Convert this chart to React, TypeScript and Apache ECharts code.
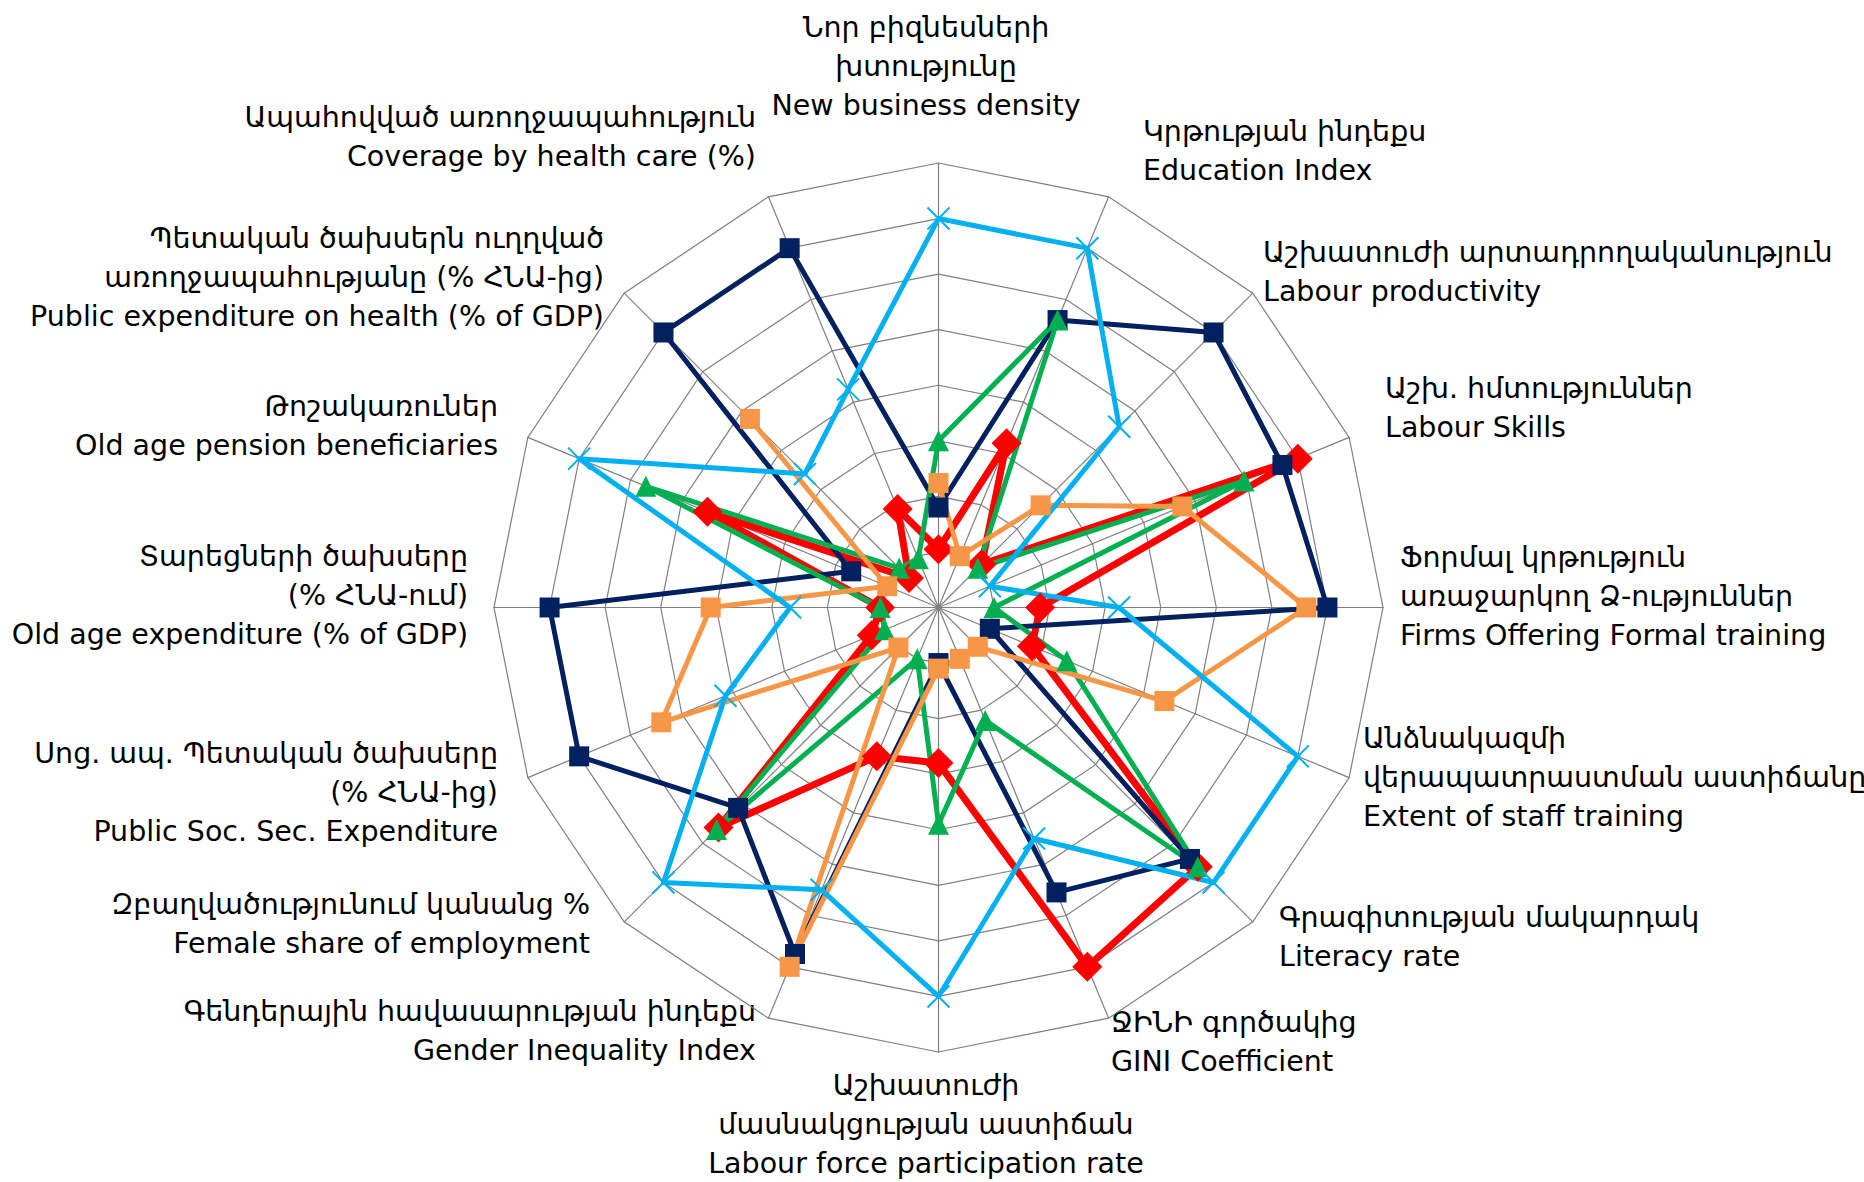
import React, { useEffect, useRef } from "react";
import * as echarts from "echarts";

// Axis categories, clockwise from the top
const categories: string[] = [
  "Նոր բիզնեսների\nխտությունը\nNew business density",
  "Կրթության ինդեքս\nEducation Index",
  "Աշխատուժի արտադրողականություն\nLabour productivity",
  "Աշխ. հմտություններ\nLabour Skills",
  "Ֆորմալ կրթություն\nառաջարկող Ձ-ություններ\nFirms Offering Formal training",
  "Անձնակազմի\nվերապատրաստման աստիճանը\nExtent of staff training",
  "Գրագիտության մակարդակ\nLiteracy rate",
  "ՋԻՆԻ գործակից\nGINI Coefficient",
  "Աշխատուժի\nմասնակցության աստիճան\nLabour force participation rate",
  "Գենդերային հավասարության ինդեքս\nGender Inequality Index",
  "Զբաղվածությունում կանանց %\nFemale share of employment",
  "Սոց. ապ. Պետական ծախսերը\n(% ՀՆԱ-ից)\nPublic Soc. Sec. Expenditure",
  "Տարեցների ծախսերը\n(% ՀՆԱ-ում)\nOld age expenditure (% of GDP)",
  "Թոշակառուներ\nOld age pension beneficiaries",
  "Պետական ծախսերն ուղղված\nառողջապահությանը (% ՀՆԱ-ից)\nPublic expenditure on health (% of GDP)",
  "Ապահովված առողջապահություն\nCoverage by health care (%)",
];

// Series values (same clockwise order as categories), scale 0..8
const redValues: (number | null)[] = [1.05, 3.2, 1.1, 7.0, 1.83, 1.82, 6.6, 7.0, 2.8, 2.9, 5.6, 1.3, 1.05, 4.5, 0.75, 1.92];
const navyValues: (number | null)[] = [1.8, 5.6, 7.0, 6.7, 7.0, 1.0, 6.4, 5.55, 1.0, 6.75, 5.1, 7.0, 7.0, 1.7, 7.0, 7.0];
const greenValues: (number | null)[] = [3.0, 5.6, 1.0, 5.95, 1.0, 2.5, 6.6, 2.2, 3.9, 1.0, 5.65, 1.05, 1.05, 5.7, 1.0, 0.95];
const orangeValues: (number | null)[] = [2.24, 1.0, 2.6, 4.75, 6.62, 4.4, 1.0, 1.0, 1.1, 7.0, 1.02, 5.4, 4.1, 1.0, 4.8, null];
const cyanValues: (number | null)[] = [7.0, 7.0, 4.6, 1.0, 3.25, 7.0, 7.0, 4.5, 7.0, 5.5, 7.0, 4.15, 2.67, 7.0, 3.4, 4.25];

const scaleMax = 8;

// Label placement (layout only)
const labelLayout: { x: number; y: number; align: string }[] = [
  { x: 926, y: 66, align: "center" },
  { x: 1143, y: 151, align: "left" },
  { x: 1263, y: 272, align: "left" },
  { x: 1385, y: 408, align: "left" },
  { x: 1400, y: 596, align: "left" },
  { x: 1363, y: 777, align: "left" },
  { x: 1279, y: 937, align: "left" },
  { x: 1111, y: 1042, align: "left" },
  { x: 926, y: 1124, align: "center" },
  { x: 756, y: 1031, align: "right" },
  { x: 590, y: 924, align: "right" },
  { x: 498, y: 792, align: "right" },
  { x: 468, y: 595, align: "right" },
  { x: 498, y: 426, align: "right" },
  { x: 604, y: 277, align: "right" },
  { x: 756, y: 137, align: "right" },
];

const CENTER = [938.5, 607.5];
const RADIUS = 444.5;

function toPolarData(vals: (number | null)[]) {
  const pts: any[] = vals.map((v, i) => [v == null ? "-" : v, i]);
  pts.push({ value: [vals[0] == null ? "-" : vals[0], vals.length], symbol: "none" });
  return pts;
}

export default function App() {
  const ref = useRef<HTMLDivElement>(null);
  useEffect(() => {
    if (!ref.current) return;
    const chart = echarts.init(ref.current, null, { renderer: "svg" });
    const mk = (name: string, vals: (number | null)[], color: string, width: number, symbol: string, size: number, extra: any = {}) => ({
      name,
      type: "line",
      coordinateSystem: "polar",
      data: toPolarData(vals),
      connectNulls: false,
      symbol,
      symbolSize: size,
      showSymbol: true,
      z: 3,
      lineStyle: { color, width, join: "round" },
      itemStyle: { color, borderWidth: 0, ...extra },
      emphasis: { disabled: true },
    });
    chart.setOption({
      animation: false,
      backgroundColor: "#ffffff",
      radar: {
        center: CENTER,
        radius: RADIUS,
        startAngle: 90,
        splitNumber: 8,
        shape: "polygon",
        z: 1,
        indicator: categories.map((c) => ({ name: c, max: scaleMax, min: 0 })),
        axisName: { show: false },
        axisLine: { lineStyle: { color: "#7f7f7f", width: 1.2 } },
        splitLine: { lineStyle: { color: "#7f7f7f", width: 1.2 } },
        splitArea: { show: false },
        axisTick: { show: false },
        axisLabel: { show: false },
      },
      polar: { center: CENTER, radius: RADIUS },
      angleAxis: { type: "value", min: 0, max: categories.length, startAngle: 90, clockwise: true, show: false },
      radiusAxis: { type: "value", min: 0, max: scaleMax, show: false },
      graphic: categories.map((c, i) => ({
        type: "text",
        x: labelLayout[i].x,
        y: labelLayout[i].y,
        silent: true,
        style: {
          text: c,
          fill: "#000000",
          fontSize: 28.5,
          fontFamily: "DejaVu Sans",
          lineHeight: 39,
          align: labelLayout[i].align,
          verticalAlign: "middle",
        },
      })),
      series: [
        mk("Series 1", redValues, "#FF0000", 7, "diamond", 30),
        mk("Series 2", navyValues, "#002060", 5, "rect", 20),
        mk("Series 3", greenValues, "#00B050", 5, "triangle", 21),
        mk("Series 4", orangeValues, "#F79646", 5, "rect", 20),
        mk("Series 5", cyanValues, "#00B0F0", 5, "path://M0,0L10,10M10,0L0,10", 22, { borderColor: "#00B0F0", borderWidth: 2 }),
      ],
    });
    return () => chart.dispose();
  }, []);
  return (
    <div
      ref={ref}
      style={{ position: "fixed", left: 0, top: 0, width: 1864, height: 1182, background: "#ffffff" }}
    />
  );
}
